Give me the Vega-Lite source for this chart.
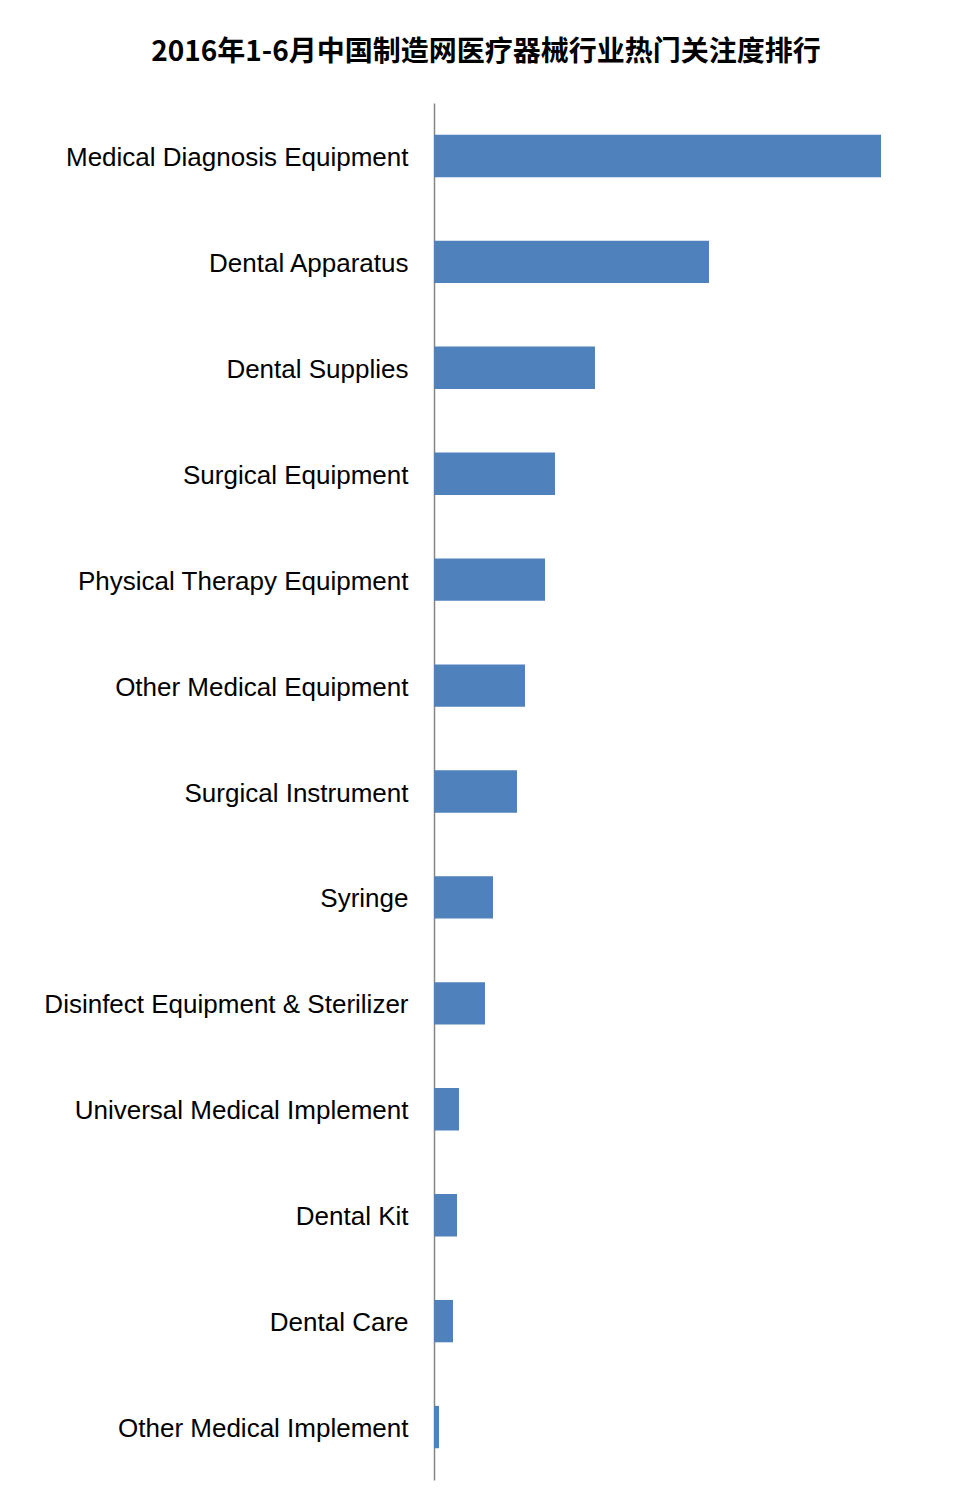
{
  "$schema": "https://vega.github.io/schema/vega-lite/v6.json",
  "autosize": {"type": "none"},
  "width": 500,
  "height": 1377,
  "padding": {"left": 434, "top": 103, "right": 21, "bottom": 22},
  "background": "white",
  "title": {
    "text": "2016年1-6月中国制造网医疗器械行业热门关注度排行",
    "font": "Noto Sans CJK SC",
    "fontSize": 28,
    "fontWeight": "bold",
    "color": "black",
    "anchor": "middle",
    "frame": "group",
    "dx": -198,
    "offset": 36
  },
  "data": {
    "values": [
      {"category": "Medical Diagnosis Equipment", "value": 447},
      {"category": "Dental Apparatus", "value": 275},
      {"category": "Dental Supplies", "value": 161},
      {"category": "Surgical Equipment", "value": 121},
      {"category": "Physical Therapy  Equipment", "value": 111},
      {"category": "Other Medical Equipment", "value": 91},
      {"category": "Surgical Instrument", "value": 83},
      {"category": "Syringe", "value": 59},
      {"category": "Disinfect Equipment & Sterilizer", "value": 51},
      {"category": "Universal Medical Implement", "value": 25},
      {"category": "Dental Kit", "value": 23},
      {"category": "Dental Care", "value": 19},
      {"category": "Other Medical Implement", "value": 5}
    ]
  },
  "mark": {"type": "bar", "color": "#4F81BD"},
  "encoding": {
    "y": {
      "field": "category",
      "type": "nominal",
      "sort": null,
      "scale": {"paddingInner": 0.6, "paddingOuter": 0.3},
      "axis": {
        "title": null,
        "ticks": false,
        "domainColor": "#868686",
        "domainWidth": 1.5,
        "labelFont": "Liberation Sans",
        "labelFontSize": 26,
        "labelColor": "black",
        "labelPadding": 26,
        "labelOffset": 2,
        "labelLimit": 500
      }
    },
    "x": {
      "field": "value",
      "type": "quantitative",
      "scale": {"domain": [0, 500]},
      "axis": null
    }
  },
  "config": {"view": {"stroke": null}}
}
